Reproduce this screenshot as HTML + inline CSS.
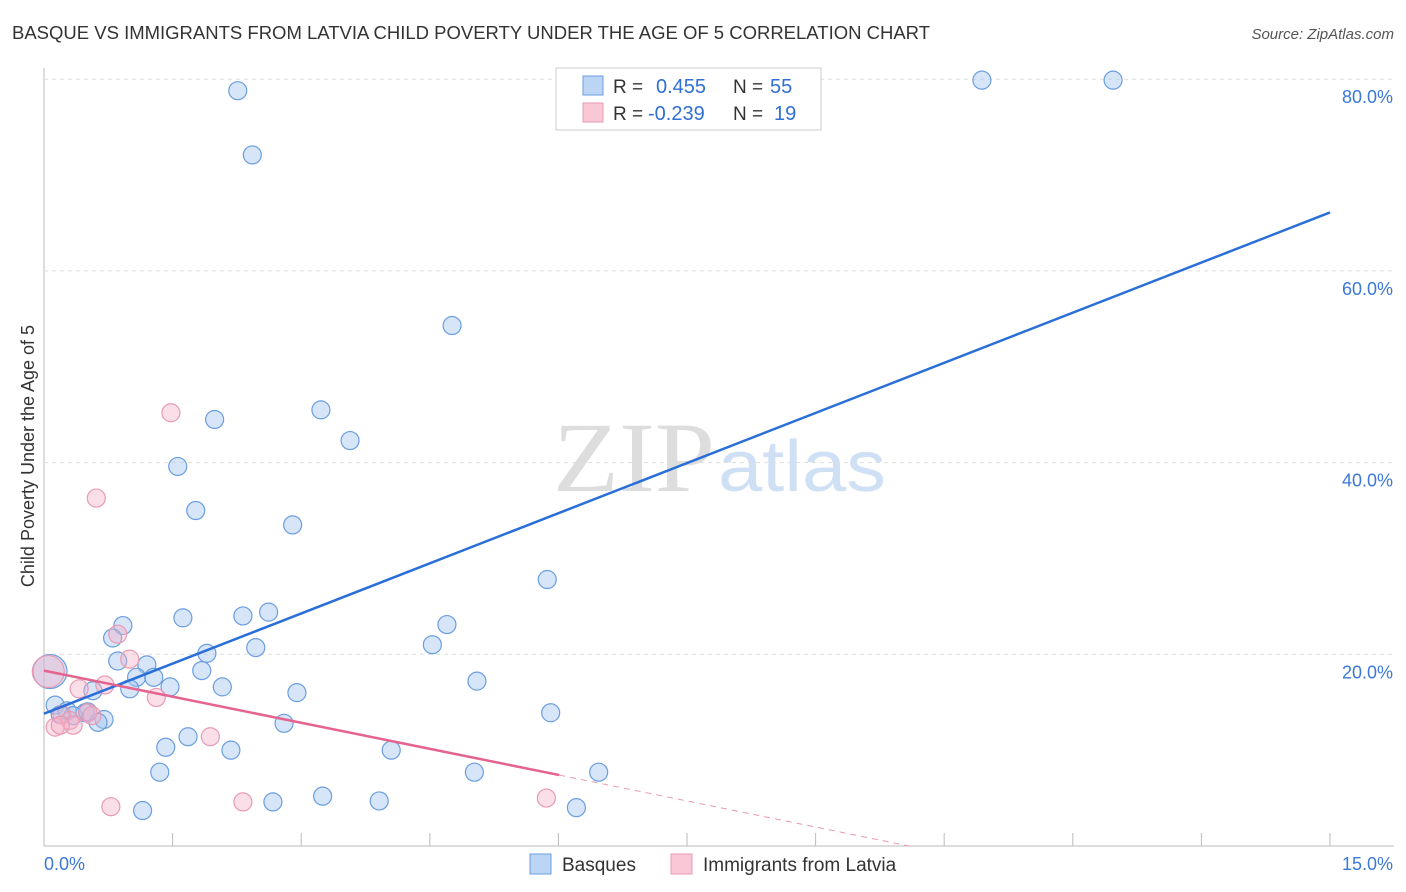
<!DOCTYPE html>
<html><head><meta charset="utf-8"><style>
body{margin:0;background:#fff;font-family:"Liberation Sans",sans-serif;}
#wrap{position:relative;width:1406px;height:892px;overflow:hidden}
</style></head><body>
<div id="wrap">
<svg id="svg" width="1406" height="892" xmlns="http://www.w3.org/2000/svg">
<text x="12" y="39" font-size="18" fill="#333" textLength="918" lengthAdjust="spacingAndGlyphs">BASQUE VS IMMIGRANTS FROM LATVIA CHILD POVERTY UNDER THE AGE OF 5 CORRELATION CHART</text>
<text x="1394" y="39" font-size="15" fill="#555" font-style="italic" text-anchor="end">Source: ZipAtlas.com</text>
<text x="34" y="456" font-size="18" fill="#333" text-anchor="middle" transform="rotate(-90 34 456)">Child Poverty Under the Age of 5</text>
<text x="553" y="491" font-size="100" fill="#ddd" font-family="Liberation Serif,serif" textLength="162" lengthAdjust="spacingAndGlyphs">ZIP</text>
<text x="718" y="491" font-size="72" fill="#cfe0f5" textLength="168" lengthAdjust="spacingAndGlyphs">atlas</text>
<g id="grid"></g><g id="pts"></g><g id="lines"></g>
<g>
<rect x="556" y="68" width="265" height="62" fill="#fff" stroke="#ccc"/>
<rect x="583" y="76" width="20" height="19" fill="#bcd5f5" stroke="#6a9ee0"/>
<text x="613" y="93" font-size="19" fill="#333">R = </text><text x="656" y="93" font-size="20" fill="#2f6fd6">0.455</text>
<text x="733" y="93" font-size="19" fill="#333">N = </text><text x="770" y="93" font-size="20" fill="#2f6fd6">55</text>
<rect x="583" y="103" width="20" height="19" fill="#f9c7d6" stroke="#e89ab4"/>
<text x="613" y="120" font-size="19" fill="#333">R = </text><text x="648" y="120" font-size="20" fill="#2f6fd6">-0.239</text>
<text x="733" y="120" font-size="19" fill="#333">N = </text><text x="774" y="120" font-size="20" fill="#2f6fd6">19</text>
</g>
<g>
<rect x="530" y="854" width="21" height="20" fill="#bcd5f5" stroke="#6a9ee0"/>
<text x="562" y="871" font-size="19" fill="#333">Basques</text>
<rect x="671" y="854" width="21" height="20" fill="#f9c7d6" stroke="#e89ab4"/>
<text x="703" y="871" font-size="19" fill="#333">Immigrants from Latvia</text>
</g>
<text x="44" y="870" font-size="18" fill="#3b78d8">0.0%</text>
<text x="1393" y="870" font-size="18" fill="#3b78d8" text-anchor="end">15.0%</text>
</svg></div>
<script>
const yTicks=[20,40,60,80];
const blueX=[2.26,2.43,10.94,12.47,4.76,3.23,3.57,1.99,1.56,1.77,2.90,5.87,1.62,2.32,2.62,0.92,0.80,4.70,4.53,1.90,2.47,0.86,1.20,1.08,1.28,1.84,1.00,1.47,2.08,0.57,2.95,5.05,0.13,0.27,0.48,0.34,0.70,0.63,2.80,5.91,1.42,1.68,2.18,4.05,1.35,5.02,6.47,1.15,2.67,3.25,3.91,6.21,0.51,0.19,0.07];
const blueY=[78.8,72.1,79.9,79.9,54.3,45.5,42.3,44.5,39.6,35.0,33.5,27.8,23.8,24.0,24.4,23.0,21.7,23.1,21.0,20.1,20.7,19.3,18.9,17.6,17.6,18.3,16.4,16.6,16.6,16.2,16.0,17.2,14.7,14.1,13.9,13.6,13.2,12.9,12.8,13.9,10.3,11.4,10.0,10.0,7.7,7.7,7.7,3.7,4.6,5.2,4.7,4.0,14.0,13.7,18.2];
const pinkX=[1.48,0.61,0.86,1.00,0.41,0.71,1.31,1.94,0.51,0.21,0.30,0.13,0.34,0.78,2.32,5.86,0.56,0.19,0.05];
const pinkY=[45.2,36.3,22.1,19.5,16.4,16.8,15.5,11.4,13.9,13.7,13.1,12.4,12.6,4.1,4.6,5.0,13.6,12.6,18.2];
const blueTrend=[13.8,66.1];
const pinkTrend=[18.3,7.4,6.01];
const NS="http://www.w3.org/2000/svg";
const X=v=>44+v/15*1286, Y=v=>846-v*9.585;
function mk(t,a,p){const e=document.createElementNS(NS,t);for(const k in a)e.setAttribute(k,a[k]);document.getElementById(p).appendChild(e);return e;}
let ax=mk('line',{x1:44,y1:68,x2:44,y2:846,stroke:'#bbb'},'grid');


let bx=mk('line',{x1:44,y1:846,x2:1394,y2:846,stroke:'#bbb'},'grid');


for(let i=1;i<=10;i++){let t=mk('line',{x1:X(i*1.5),y1:833,x2:X(i*1.5),y2:846,stroke:'#bbb'},'grid');

}
yTicks.forEach(v=>{let g=mk('line',{x1:44,y1:Y(v),x2:1394,y2:Y(v),stroke:'#ddd','stroke-dasharray':'4,4'},'grid');


let t=mk('text',{x:1393,y:Y(v)+24,'font-size':18,fill:'#3b78d8','text-anchor':'end'},'grid');t.textContent=v.toFixed(1)+'%';

});
blueX.forEach((x,i)=>{let c=mk('circle',{cx:X(x),cy:Y(blueY[i]),r:i==blueX.length-1?17:9,fill:'rgba(165,198,240,0.45)',stroke:'#6a9ee0','stroke-width':1.2},'pts');

});
pinkX.forEach((x,i)=>{let c=mk('circle',{cx:X(x),cy:Y(pinkY[i]),r:i==pinkX.length-1?16:9,fill:'rgba(245,175,198,0.4)',stroke:'#e89ab4','stroke-width':1.2},'pts');

});
let bl=mk('line',{x1:X(0),y1:Y(blueTrend[0]),x2:X(15),y2:Y(blueTrend[1]),stroke:'#2a6fd8','stroke-width':2.5},'lines');


const sl=(pinkTrend[1]-pinkTrend[0])/pinkTrend[2];
let pl=mk('line',{x1:X(0),y1:Y(pinkTrend[0]),x2:X(pinkTrend[2]),y2:Y(pinkTrend[1]),stroke:'#e4638f','stroke-width':2.5},'lines');


const xe=-pinkTrend[0]/sl;
let pd=mk('line',{x1:X(pinkTrend[2]),y1:Y(pinkTrend[1]),x2:X(xe),y2:Y(0),stroke:'#e89ab4','stroke-width':1,'stroke-dasharray':'6,5'},'lines');


</script>
</body></html>
